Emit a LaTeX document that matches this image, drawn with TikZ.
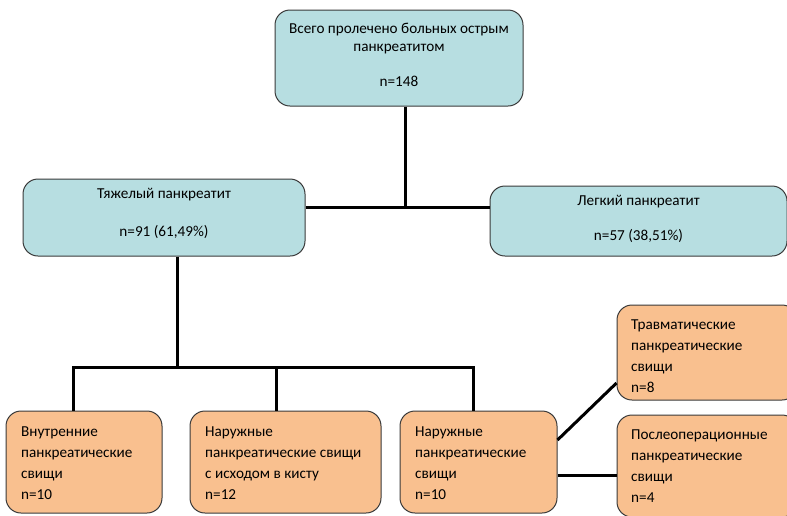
\documentclass[tikz,border=0pt]{standalone}
\usepackage{fontspec}
\setmainfont{Carlito}
\definecolor{boxblue}{HTML}{B7DEE1}
\definecolor{boxorange}{HTML}{F9C08F}
\definecolor{boxedge}{HTML}{3A3A3A}
\begin{document}
\begin{tikzpicture}[x=1pt,y=-1pt,
  box/.style={draw=boxedge,line width=1pt,rounded corners=15pt,inner sep=0pt,font=\fontsize{15.2}{18}\selectfont},
  bluebox/.style={box,fill=boxblue,align=center},
  orangebox/.style={box,fill=boxorange},
  txt/.style={anchor=north west,inner sep=0pt,align=left,font=\fontsize{15.2}{20.8}\selectfont},
  link/.style={line width=3pt,black}]
\useasboundingbox (0,0) rectangle (787,515);
% top box
\node[bluebox,minimum width=248pt,minimum height=96pt] (top) at (399,58) {};
\node[inner sep=0pt,align=center,font=\fontsize{15.2}{18}\selectfont] (topt) at (399,54.5)
  {Всего пролечено больных острым\\панкреатитом\\[17pt]n=148};
\node[bluebox,minimum width=282pt,minimum height=77pt] (heavy) at (164,217.5) {};
\node[inner sep=0pt,align=center,font=\fontsize{15.2}{18}\selectfont] (heavyt) at (164,213.5)
  {Тяжелый панкреатит\\[20pt]n=91 (61,49\%)};
\node[bluebox,minimum width=297pt,minimum height=70pt] (light) at (638.5,221) {};
\node[inner sep=0pt,align=center,font=\fontsize{15.2}{18}\selectfont] (lightt) at (638.5,218.5)
  {Легкий панкреатит\\[17pt]n=57 (38,51\%)};
% bottom boxes
\node[orangebox,minimum width=156pt,minimum height=102pt] (b1) at (84,462) {};
\node[orangebox,minimum width=191pt,minimum height=102pt] (b2) at (285.5,462) {};
\node[orangebox,minimum width=157pt,minimum height=102pt] (b3) at (478.5,462) {};
\node[orangebox,minimum width=180pt,minimum height=95pt] (t1) at (707,352.5) {};
\node[orangebox,minimum width=180pt,minimum height=102pt] (t2) at (707,466) {};
\node[txt] (b1t) at (21,427) {Внутренние\\панкреатические\\свищи\\n=10};
\node[txt] (b2t) at (205,427) {Наружные\\панкреатические свищи\\с исходом в кисту\\n=12};
\node[txt] (b3t) at (415,427) {Наружные\\панкреатические\\свищи\\n=10};
\node[txt] (t1t) at (631,320) {Травматические\\панкреатические\\свищи\\n=8};
\node[txt] (t2t) at (631,430) {Послеоперационные\\панкреатические\\свищи\\n=4};
% connectors
\coordinate (j1) at (405,207);
\coordinate (j2) at (177,367);
\draw[link] (top.south -| j1) -- (j1);
\draw[link] (heavy.east |- j1) -- (light.west |- j1);
\draw[link] (heavy.south -| j2) -- (j2);
\coordinate (c1) at (73,367);
\coordinate (c2) at (276,367);
\coordinate (c3) at (473,367);
\draw[link] (b1.north -| c1) -- (c1) -- (c3) -- (b3.north -| c3);
\draw[link] (c2) -- (b2.north -| c2);
\coordinate (s1) at (557,440);
\coordinate (s2) at (617,383);
\draw[link] (b3.east |- s1) -- (t1.west |- s2);
\draw[link] (b3.east |- 0,475) -- (t2.west |- 0,475);
\end{tikzpicture}
\end{document}
